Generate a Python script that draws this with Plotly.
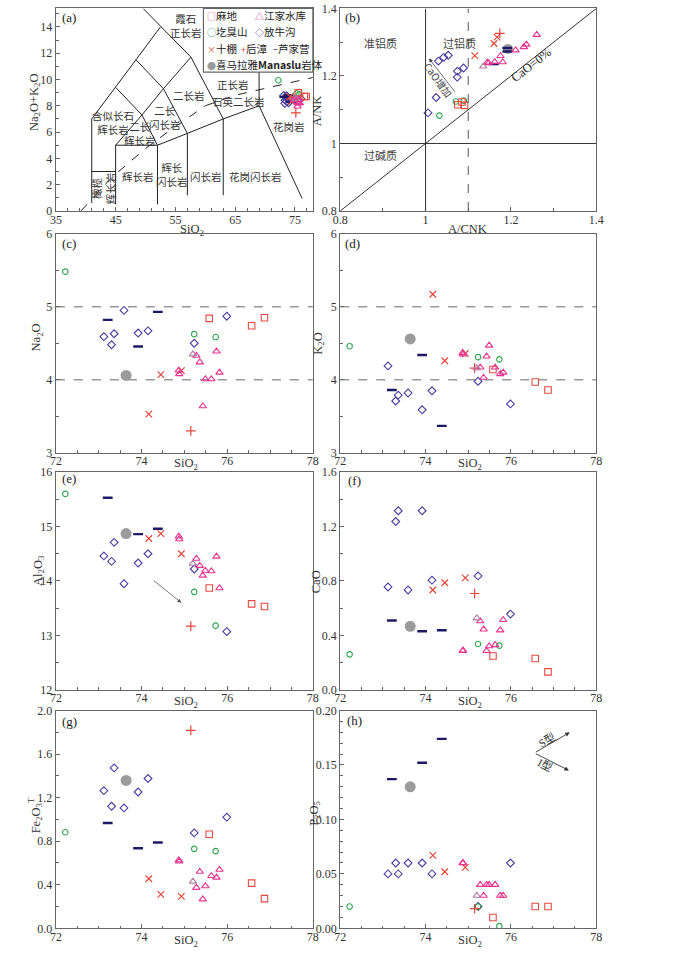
import plotly.graph_objects as go

# ---------------- data (wt%) ----------------
# 麻地
madi_SiO2 = [75.58, 76.57, 76.87]
madi_Na2O = [4.84, 4.74, 4.85]
madi_K2O = [4.14, 3.97, 3.86]
madi_Al2O3 = [13.87, 13.58, 13.53]
madi_CaO = [0.249, 0.230, 0.132]
madi_Fe2O3T = [0.864, 0.415, 0.273]
madi_P2O5 = [0.010, 0.020, 0.020]
# 江家水库
jjsk_SiO2 = [74.87, 74.88, 75.28, 75.36, 75.43, 75.49, 75.63, 75.75, 75.82]
jjsk_Na2O = [4.13, 4.08, 4.33, 4.24, 3.64, 4.01, 4.01, 4.39, 4.10]
jjsk_K2O = [4.37, 4.35, 4.17, 4.03, 4.32, 4.47, 4.17, 4.08, 4.10]
jjsk_Al2O3 = [14.82, 14.77, 14.41, 14.28, 14.10, 14.19, 14.18, 14.45, 13.87]
jjsk_CaO = [0.287, 0.290, 0.505, 0.445, 0.287, 0.321, 0.330, 0.438, 0.514]
jjsk_Fe2O3T = [0.625, 0.615, 0.373, 0.521, 0.267, 0.388, 0.482, 0.467, 0.539]
jjsk_P2O5 = [0.06, 0.06, 0.04, 0.03, 0.04, 0.04, 0.04, 0.03, 0.03]
# 江家水库 (lighter-coloured sample)
jjsk2_SiO2 = [75.20]
jjsk2_Na2O = [4.35]
jjsk2_K2O = [4.16]
jjsk2_Al2O3 = [14.32]
jjsk2_CaO = [0.526]
jjsk2_Fe2O3T = [0.430]
jjsk2_P2O5 = [0.03]
# 圪臭山
gcs_SiO2 = [72.22, 75.23, 75.73]
gcs_Na2O = [5.48, 4.625, 4.585]
gcs_K2O = [4.46, 4.31, 4.28]
gcs_Al2O3 = [15.60, 13.80, 13.18]
gcs_CaO = [0.261, 0.337, 0.325]
gcs_Fe2O3T = [0.882, 0.730, 0.709]
gcs_P2O5 = [0.020, 0.020, 0.002]
# 放牛沟
fng_SiO2 = [73.12, 73.30, 73.36, 73.59, 73.92, 74.15, 75.23, 75.99]
fng_Na2O = [4.59, 4.48, 4.63, 4.95, 4.64, 4.67, 4.50, 4.87]
fng_K2O = [4.19, 3.71, 3.79, 3.82, 3.59, 3.85, 3.98, 3.67]
fng_Al2O3 = [14.46, 14.36, 14.71, 13.95, 14.33, 14.50, 14.22, 13.07]
fng_CaO = [0.756, 1.237, 1.316, 0.734, 1.316, 0.806, 0.837, 0.557]
fng_Fe2O3T = [1.264, 1.121, 1.473, 1.106, 1.252, 1.376, 0.876, 1.021]
fng_P2O5 = [0.05, 0.06, 0.05, 0.06, 0.06, 0.05, 0.02, 0.06]
# 十棚
sp_SiO2 = [74.17, 74.45, 74.93]
sp_Na2O = [3.53, 4.07, 4.125]
sp_K2O = [5.17, 4.26, 4.36]
sp_Al2O3 = [14.78, 14.87, 14.50]
sp_CaO = [0.734, 0.787, 0.823]
sp_Fe2O3T = [0.455, 0.312, 0.294]
sp_P2O5 = [0.067, 0.052, 0.056]
# 后漳
hz_SiO2 = [75.15]
hz_Na2O = [3.30]
hz_K2O = [4.16]
hz_Al2O3 = [13.17]
hz_CaO = [0.708]
hz_Fe2O3T = [1.818]
hz_P2O5 = [0.018]
# 芦家营
ljy_SiO2 = [73.21, 73.92, 74.38]
ljy_Na2O = [4.82, 4.455, 4.93]
ljy_K2O = [3.86, 4.34, 3.37]
ljy_Al2O3 = [15.53, 14.86, 14.96]
ljy_CaO = [0.510, 0.431, 0.438]
ljy_Fe2O3T = [0.967, 0.736, 0.788]
ljy_P2O5 = [0.137, 0.152, 0.174]
# 喜马拉雅Manaslu岩体
man_SiO2 = [73.64]
man_Na2O = [4.06]
man_K2O = [4.56]
man_Al2O3 = [14.87]
man_CaO = [0.467]
man_Fe2O3T = [1.358]
man_P2O5 = [0.130]

# TAS (Middlemost) boundary polylines and alkaline/subalkaline curve
tas_lines = [
    [(41, 0.6), (41, 7)],
    [(41, 3), (45, 3)],
    [(45, 0.5), (45, 5), (52, 5)],
    [(52, 0.5), (52, 5), (57, 5.9), (63, 7), (69, 8)],
    [(57, 1.2), (57, 5.9)],
    [(63, 1.2), (63, 7)],
    [(69, 8), (76.2, 0.95)],
    [(69, 8), (69, 13)],
    [(41, 7), (45, 9.4), (48.4, 11.5), (52.5, 14)],
    [(49.6, 15.4), (57.6, 11.7), (63, 7)],
    [(48.4, 11.5), (53, 9.3), (57, 5.9)],
    [(45, 9.4), (49.4, 7.3), (52, 5)],
    [(45, 5), (49.4, 7.3), (53, 9.3), (57.6, 11.7)],
]
ib_curve_x = [39.2, 40, 43.2, 45, 48, 50, 53.7, 55, 60, 65, 78]
ib_curve_y = [0, 0.4, 2.0, 2.8, 4.0, 4.75, 6.0, 6.4, 8.0, 8.8, 10.15]

field_labels = [
    ("霞石<br>正长岩", 56.7, 14.1, 0), ("正长岩", 64.6, 9.6, 0), ("石英二长岩", 65.6, 8.35, 0),
    ("二长岩", 57.2, 8.8, 0), ("二长<br>闪长岩", 53.3, 7.1, 0), ("二长<br>辉长岩", 49.1, 5.9, 0),
    ("含似长石<br>辉长岩", 44.6, 6.75, 0), ("辉长岩", 48.7, 2.65, 0), ("辉长<br>闪长岩", 54.5, 2.75, 0),
    ("闪长岩", 60.2, 2.65, 0), ("花岗闪长岩", 68.4, 2.65, 0), ("花岗岩", 74.0, 6.4, 0),
    ("橄榄<br>辉长岩", 43.0, 1.7, -90),
]

# ---------------- style ----------------
W, H = 700, 957
SERIF = "Liberation Serif, Noto Sans CJK SC, serif"
CJK = "Noto Sans CJK SC, Liberation Serif"
FRAME = "#666666"
TXT = "#333333"
M_AL, M_CA, M_NA, M_K = 101.96, 56.08, 61.98, 94.20

def G(name, pre, symbol, color, size, lw=1.1):
    g = dict(name=name, symbol=symbol, color=color, size=size, lw=lw)
    for k in ["SiO2", "Na2O", "K2O", "Al2O3", "CaO", "Fe2O3T", "P2O5"]:
        g[k] = globals()[pre + "_" + k]
    return g

groups = [
    G("喜马拉雅Manaslu岩体", "man", "circle", "#9b9b9b", 11, 0),
    G("放牛沟", "fng", "diamond-open", "#4b3c9e", 6),
    G("芦家营", "ljy", "line-ew-open", "#1c1a66", 7, 2.4),
    G("圪臭山", "gcs", "circle-open", "#2ea64f", 5.5),
    G("十棚", "sp", "x-thin-open", "#e4473b", 6.5, 1.2),
    G("后漳", "hz", "cross-thin-open", "#e4473b", 7, 1.2),
    G("麻地", "madi", "square-open", "#e5493f", 6.5),
    G("江家水库", "jjsk", "triangle-up-open", "#e8338f", 6.5),
    G("江家水库2", "jjsk2", "triangle-up-open", "#b07aa1", 6.5),
]

def tas_y(g):
    return [n + k for n, k in zip(g["Na2O"], g["K2O"])]

def acnk(g):
    return [(a / M_AL) / (c / M_CA + n / M_NA + k / M_K)
            for a, c, n, k in zip(g["Al2O3"], g["CaO"], g["Na2O"], g["K2O"])]

def ank(g):
    return [(a / M_AL) / (n / M_NA + k / M_K) for a, n, k in zip(g["Al2O3"], g["Na2O"], g["K2O"])]

LEFT = [49 / W, 312 / W]
RIGHT = [340 / W, 602 / W]
ROWS = [(1.5, 207), (230, 452.5), (472, 693), (714, 935)]
def ydom(r):
    return [1 - ROWS[r][1] / H, 1 - ROWS[r][0] / H]

fig = go.Figure()

for line in tas_lines:
    fig.add_trace(go.Scatter(x=[p[0] for p in line], y=[p[1] for p in line], mode="lines",
                             line=dict(color="#222", width=1), hoverinfo="skip", showlegend=False,
                             xaxis="x", yaxis="y"))
fig.add_trace(go.Scatter(x=ib_curve_x, y=ib_curve_y, mode="lines", line=dict(color="#222", width=1, dash="dash"),
                         hoverinfo="skip", showlegend=False, xaxis="x", yaxis="y"))

panels = [
    (1, lambda g: g["SiO2"], tas_y),
    (2, acnk, ank),
    (3, lambda g: g["SiO2"], lambda g: g["Na2O"]),
    (4, lambda g: g["SiO2"], lambda g: g["K2O"]),
    (5, lambda g: g["SiO2"], lambda g: g["Al2O3"]),
    (6, lambda g: g["SiO2"], lambda g: g["CaO"]),
    (7, lambda g: g["SiO2"], lambda g: g["Fe2O3T"]),
    (8, lambda g: g["SiO2"], lambda g: g["P2O5"]),
]
for idx, fx, fy in panels:
    for g in groups:
        size = g["size"]
        if g["symbol"] == "circle":
            size = {1: 9, 2: 10}.get(idx, 11)
        xs = "x" if idx == 1 else f"x{idx}"
        ys = "y" if idx == 1 else f"y{idx}"
        fig.add_trace(go.Scatter(
            x=fx(g), y=fy(g), mode="markers", name=g["name"], showlegend=False,
            marker=dict(symbol=g["symbol"], size=size, color=g["color"],
                        line=dict(color=g["color"], width=g["lw"])),
            xaxis=xs, yaxis=ys))

def axis(**kw):
    d = dict(showline=True, linecolor=FRAME, linewidth=1.3, mirror=True, ticks="inside", ticklen=4,
             tickwidth=1, tickcolor=FRAME, showgrid=False, zeroline=False,
             tickfont=dict(family=SERIF, size=12, color=TXT), fixedrange=True)
    d.update(kw)
    return d

def minor(dt, t0):
    return dict(ticks="inside", ticklen=2.5, tickcolor=FRAME, dtick=dt, tick0=t0, showgrid=False)

XSO = -3
lay = {}
lay["xaxis"] = axis(domain=LEFT, range=[35, 78], tick0=35, dtick=10, minor=minor(2, 35), anchor="y",
                    ticklabelstandoff=XSO)
lay["yaxis"] = axis(domain=ydom(0), range=[0, 15.4], tick0=0, dtick=2, minor=minor(1, 0), anchor="x")
lay["xaxis2"] = axis(domain=RIGHT, range=[0.8, 1.4], tick0=0.8, dtick=0.2, minor=minor(0.1, 0.8), anchor="y2",
                     ticklabelstandoff=XSO)
lay["yaxis2"] = axis(domain=ydom(0), range=[0.8, 1.4], tick0=0.8, dtick=0.2, minor=minor(0.1, 0.8), anchor="x2")
yspecs = {
    3: dict(range=[3, 6], tick0=3, dtick=1, minor=minor(0.5, 3)),
    4: dict(range=[3, 6], tick0=3, dtick=1, minor=minor(0.5, 3)),
    5: dict(range=[12, 16], tick0=12, dtick=1, minor=minor(0.5, 12)),
    6: dict(range=[0, 1.6], tick0=0, dtick=0.4, tickformat=".1f", minor=minor(0.2, 0)),
    7: dict(range=[0, 2.0], tick0=0, dtick=0.4, tickformat=".1f", minor=minor(0.2, 0)),
    8: dict(range=[0, 0.2], tick0=0, dtick=0.05, tickformat=".2f", minor=minor(0.01, 0)),
}
for idx in range(3, 9):
    row = (idx - 1) // 2
    dom = LEFT if idx % 2 == 1 else RIGHT
    lay[f"xaxis{idx}"] = axis(domain=dom, range=[72, 78], tick0=72, dtick=2, minor=minor(0.5, 72),
                              anchor=f"y{idx}", ticklabelstandoff=XSO)
    lay[f"yaxis{idx}"] = axis(domain=ydom(row), anchor=f"x{idx}", **yspecs[idx])

shapes = []
shapes.append(dict(type="line", xref="x2", yref="y2", x0=1, x1=1, y0=0.8, y1=1.4, line=dict(color="#333", width=1)))
shapes.append(dict(type="line", xref="x2", yref="y2", x0=0.8, x1=1.4, y0=1, y1=1, line=dict(color="#333", width=1)))
shapes.append(dict(type="line", xref="x2", yref="y2", x0=1.1, x1=1.1, y0=0.8, y1=1.4, line=dict(color="#555", width=1, dash="dash")))
shapes.append(dict(type="line", xref="x2", yref="y2", x0=0.8, x1=1.4, y0=0.8, y1=1.4, line=dict(color="#333", width=1)))
for idx in (3, 4):
    for yv in (4, 5):
        shapes.append(dict(type="line", xref=f"x{idx}", yref=f"y{idx}", x0=72, x1=78, y0=yv, y1=yv,
                           line=dict(color="#999", width=1.4, dash="dash"), layer="below"))
shapes.append(dict(type="rect", xref="paper", yref="paper", x0=200 / W, x1=312 / W, y0=1 - 66 / H, y1=1 - 1.5 / H,
                   fillcolor="white", line=dict(color=FRAME, width=1.2), layer="above"))

ann = []
for t, x, y, ang in field_labels:
    ann.append(dict(text=t, x=x, y=y, xref="x", yref="y", showarrow=False, textangle=ang,
                    xanchor="center", yanchor="middle",
                    font=dict(family=CJK, size=10.5, color="#333"), align="center"))

legend_items = [
    ("□", "#e5493f", "麻地", 202, 9), ("△", "#e8338f", "江家水库", 251, 9),
    ("○", "#2ea64f", "圪臭山", 202, 25), ("◇", "#4b3c9e", "放牛沟", 251, 25),
    ("×", "#e4473b", "十棚", 202, 42), ("+", "#e4473b", "后漳", 236, 42),
    ("−", "#1c1a66", "芦家营", 269, 42), ("●", "#9b9b9b", "喜马拉雅<b>Manaslu</b>岩体", 202, 58),
]
for sym, col, lab, px, py in legend_items:
    ann.append(dict(text=f'<span style="color:{col};font-size:9px">{sym}</span>{lab}',
                    x=px / W, y=1 - py / H, xref="paper", yref="paper", xanchor="left", yanchor="middle",
                    showarrow=False, font=dict(family=CJK, size=10.5, color="#222")))

for t, x, y in [("准铝质", 0.894, 1.298), ("过铝质", 1.08, 1.298), ("过碱质", 0.894, 0.967)]:
    ann.append(dict(text=t, x=x, y=y, xref="x2", yref="y2", showarrow=False, xanchor="center", yanchor="middle",
                    font=dict(family=CJK, size=11, color="#444")))
ann.append(dict(text="CaO=0%", x=1.248, y=1.232, xref="x2", yref="y2", showarrow=False, textangle=-38,
                xanchor="center", yanchor="middle", font=dict(family=SERIF, size=12.5, color="#222")))
ann.append(dict(text="", x=1.008, y=1.252, ax=1.071, ay=1.149, xref="x2", yref="y2", axref="x2", ayref="y2",
                showarrow=True, arrowhead=2, arrowsize=1, arrowwidth=0.8, arrowcolor="#444"))
ann.append(dict(text="CaO增加", x=1.03, y=1.19, xref="x2", yref="y2", showarrow=False, textangle=54,
                xanchor="center", yanchor="middle", font=dict(family=CJK, size=10, color="#444")))
ann.append(dict(text="", x=74.93, y=13.60, ax=74.25, ay=14.03, xref="x5", yref="y5", axref="x5", ayref="y5",
                showarrow=True, arrowhead=2, arrowsize=1, arrowwidth=0.8, arrowcolor="#555"))
ann.append(dict(text="", x=77.38, y=0.180, ax=76.55, ay=0.161, xref="x8", yref="y8", axref="x8", ayref="y8",
                showarrow=True, arrowhead=2, arrowsize=1, arrowwidth=0.9, arrowcolor="#333"))
ann.append(dict(text="", x=77.36, y=0.145, ax=76.55, ay=0.161, xref="x8", yref="y8", axref="x8", ayref="y8",
                showarrow=True, arrowhead=2, arrowsize=1, arrowwidth=0.9, arrowcolor="#333"))
ann.append(dict(text="S型", x=76.84, y=0.1735, xref="x8", yref="y8", showarrow=False, textangle=-30,
                xanchor="center", yanchor="middle", font=dict(family=SERIF, size=11, color="#333")))
ann.append(dict(text="I型", x=76.80, y=0.1505, xref="x8", yref="y8", showarrow=False, textangle=27,
                xanchor="center", yanchor="middle", font=dict(family=SERIF, size=11, color="#333")))

for lab, px, py in [("(a)", 53, 11), ("(b)", 343, 11), ("(c)", 53, 240), ("(d)", 343, 240),
                    ("(e)", 53, 479), ("(f)", 346, 481), ("(g)", 53, 725), ("(h)", 345, 724)]:
    ann.append(dict(text=lab, x=px / W, y=1 - py / H, xref="paper", yref="paper", xanchor="left",
                    yanchor="middle", showarrow=False, font=dict(family=SERIF, size=13, color="#222")))

SI = "SiO<sub>2</sub>"
xt = [(SI, 188, 226), ("A/CNK", 470, 225), (SI, 182, 464), (SI, 473, 464),
      (SI, 182, 705), (SI, 473, 705), (SI, 182, 948), (SI, 473, 948)]
yt = [("Na<sub>2</sub>O+K<sub>2</sub>O", 27, 97), ("A/NK", 317, 105), ("Na<sub>2</sub>O", 30, 335),
      ("K<sub>2</sub>O", 318, 342), ("Al<sub>2</sub>O<sub>3</sub>", 31, 572), ("CaO", 316, 583),
      ("Fe<sub>2</sub>O<sub>3</sub><sup>T</sup>", 28, 820), ("P<sub>2</sub>O<sub>5</sub>", 314, 818)]
for t, px, py in xt:
    ann.append(dict(text=t, x=px / W, y=1 - py / H, xref="paper", yref="paper", showarrow=False,
                    xanchor="center", yanchor="middle", font=dict(family=SERIF, size=12.5, color=TXT)))
for t, px, py in yt:
    ann.append(dict(text=t, x=px / W, y=1 - py / H, xref="paper", yref="paper", showarrow=False, textangle=-90,
                    xanchor="center", yanchor="middle", font=dict(family=SERIF, size=12.5, color=TXT)))

fig.update_layout(width=W, height=H, margin=dict(l=0, r=0, t=0, b=0), paper_bgcolor="white",
                  plot_bgcolor="white", showlegend=False, shapes=shapes, annotations=ann, **lay)
fig.write_html("out.html", config={"displayModeBar": False},
               post_script="document.body.style.margin='0px';document.body.style.overflow='hidden';")
